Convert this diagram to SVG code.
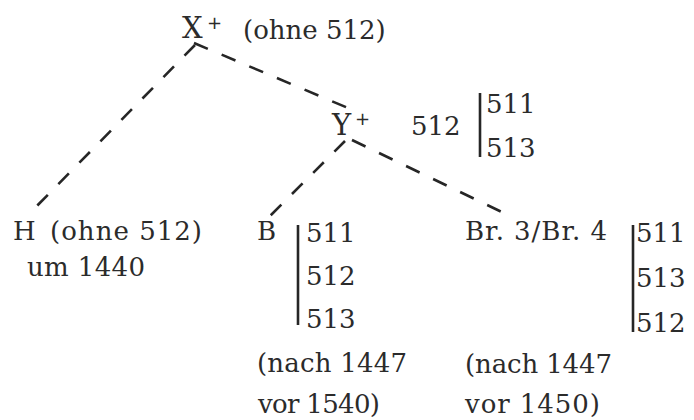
<svg xmlns="http://www.w3.org/2000/svg" width="694" height="420" viewBox="0 0 694 420">
  <style>
    .t { font-family: "DejaVu Serif", "Liberation Serif", serif; font-size: 26px; fill: #2b2b2b; }
    .big { font-size: 29px; }
    .sup { font-family: "DejaVu Sans", sans-serif; font-size: 18px; fill: #2b2b2b; }
    .dash { stroke: #262626; stroke-width: 2.6; stroke-dasharray: 15 15; fill: none; stroke-linecap: butt; }
    .bar { stroke: #262626; stroke-width: 2.6; fill: none; }
  </style>
  <rect width="694" height="420" fill="#ffffff"/>

  <g id="connectors">
    <line class="dash" x1="195" y1="45" x2="29" y2="214"/>
    <line class="dash" x1="194" y1="43" x2="348" y2="108"/>
    <line class="dash" x1="345" y1="141" x2="269" y2="217"/>
    <line class="dash" x1="352" y1="140" x2="506" y2="214"/>
  </g>

  <g id="node-X">
    <text class="t big" x="182" y="38">X</text>
    <text class="sup" x="207" y="29">+</text>
    <text class="t" x="243" y="39">(ohne 512)</text>
  </g>

  <g id="node-Y">
    <text class="t big" x="332" y="135">Y</text>
    <text class="sup" x="355" y="125">+</text>
    <text class="t" x="411" y="135">512</text>
    <line class="bar" x1="480" y1="93" x2="480" y2="157"/>
    <text class="t" x="486" y="113">511</text>
    <text class="t" x="486" y="157">513</text>
  </g>

  <g id="node-H">
    <text class="t" x="13" y="240">H</text>
    <text class="t" x="50" y="240" textLength="152" lengthAdjust="spacing">(ohne 512)</text>
    <text class="t" x="27" y="276" textLength="118" lengthAdjust="spacing">um 1440</text>
  </g>

  <g id="node-B">
    <text class="t" x="257" y="240">B</text>
    <line class="bar" x1="298" y1="225" x2="298" y2="325"/>
    <text class="t" x="306" y="242">511</text>
    <text class="t" x="306" y="285">512</text>
    <text class="t" x="306" y="328">513</text>
    <text class="t" x="257" y="372" textLength="150" lengthAdjust="spacing">(nach 1447</text>
    <text class="t" x="258" y="413" textLength="122" lengthAdjust="spacing">vor 1540)</text>
  </g>

  <g id="node-Br">
    <text class="t" x="465" y="240" textLength="142" lengthAdjust="spacing">Br. 3/Br. 4</text>
    <line class="bar" x1="633" y1="225" x2="633" y2="332"/>
    <text class="t" x="636" y="242">511</text>
    <text class="t" x="636" y="287">513</text>
    <text class="t" x="636" y="332">512</text>
    <text class="t" x="465" y="373" textLength="147" lengthAdjust="spacing">(nach 1447</text>
    <text class="t" x="465" y="413" textLength="135" lengthAdjust="spacing">vor 1450)</text>
  </g>
</svg>
